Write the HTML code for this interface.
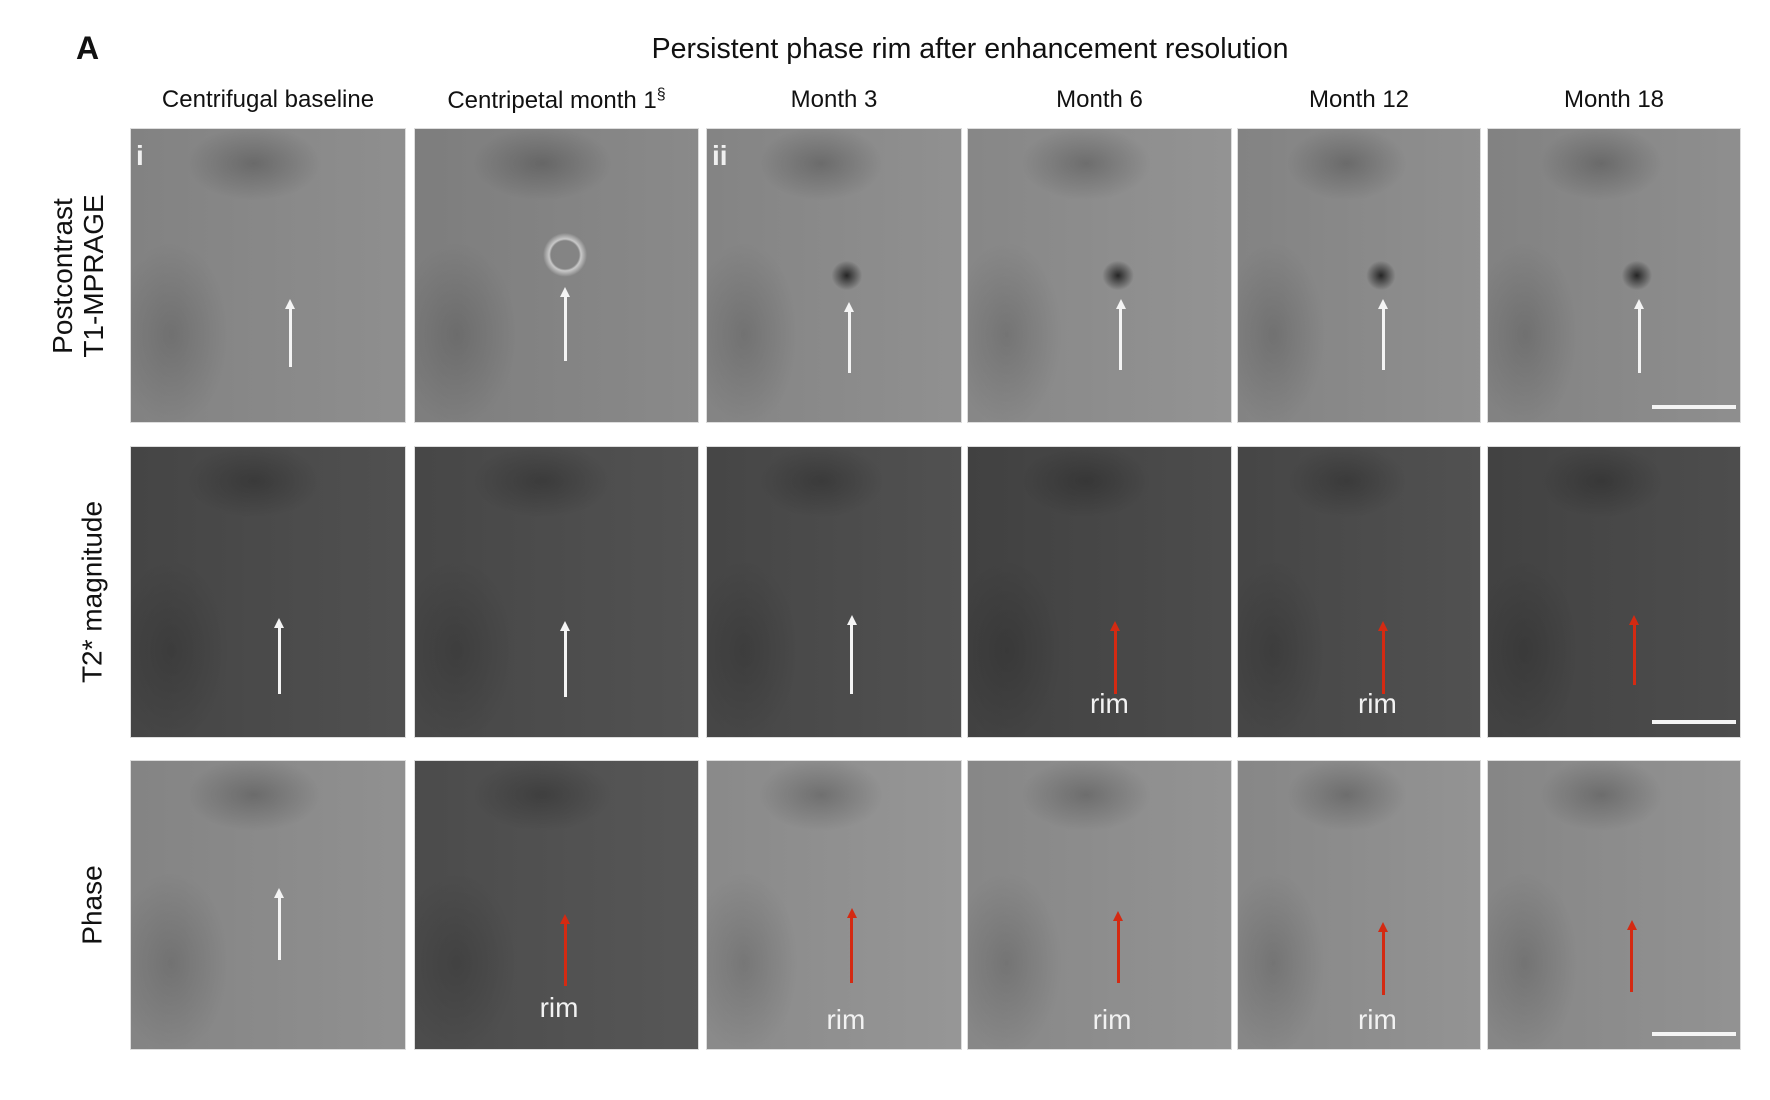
<!DOCTYPE html>
<html><head><meta charset="utf-8"><style>
body{margin:0;background:#fff;width:1770px;height:1100px;position:relative;overflow:hidden;font-family:"Liberation Sans",sans-serif;color:#111}
.abs{position:absolute}
.panel{position:absolute;overflow:hidden;box-shadow:inset 0 0 0 1px #ddd}
.hdr{position:absolute;font-size:24px;text-align:center;white-space:nowrap;transform:translateX(-50%)}
.rowlab{position:absolute;font-size:28px;text-align:center;transform:translate(-50%,-50%) rotate(-90deg);white-space:nowrap;line-height:31px}
.rim{position:absolute;color:#f2f2f2;font-size:28px;transform:translateX(-50%)}
.roman{position:absolute;color:#f0f0f0;font-size:28px;font-weight:bold;left:6px;top:12px}
</style></head><body>
<div class="abs" style="left:76px;top:30px;font-size:32px;font-weight:bold">A</div>
<div class="hdr" style="left:970px;top:33px;font-size:28.5px">Persistent phase rim after enhancement resolution</div>
<div id="root"></div>
<script>
const colNames=["Centrifugal baseline","Centripetal month 1","Month 3","Month 6","Month 12","Month 18"];
const rowNames=["Postcontrast\nT1-MPRAGE","T2* magnitude","Phase"];
const colX=[[130,406],[414,699],[706,962],[967,1232],[1237,1481],[1487,1741]];
const rowY=[[128,423],[446,738],[760,1050]];
const bg=[["#8a8a8a","#858585","#8c8c8c","#8f8f8f","#8b8b8b","#8a8a8a"],
["#494949","#4b4b4b","#4a4a4a","#454545","#4a4a4a","#464646"],
["#8c8c8c","#505050","#929292","#8f8f8f","#8f8f8f","#8e8e8e"]];
// arrows: [xfrac, topfrac, bottomfrac, red?, rimLabelYfrac or 0]
const arrows=[
[[.58,.58,.81,0,0],[.53,.54,.79,0,0],[.56,.59,.83,0,0],[.58,.58,.82,0,0],[.60,.58,.82,0,0],[.60,.58,.83,0,0]],
[[.54,.59,.85,0,0],[.53,.60,.86,0,0],[.57,.58,.85,0,0],[.56,.60,.85,1,.83],[.60,.60,.85,1,.83],[.58,.58,.82,1,0]],
[[.54,.44,.69,0,0],[.53,.53,.78,1,.80],[.57,.51,.77,1,.84],[.57,.52,.77,1,.84],[.60,.56,.81,1,.84],[.57,.55,.80,1,0]]];
const root=document.getElementById('root');
colNames.forEach((n,c)=>{
 const h=document.createElement('div');h.className='hdr';
 
 
 h.style.left=((colX[c][0]+colX[c][1])/2)+'px';h.style.top='86px';
 h.innerHTML=n+(c==1?'<sup style="font-size:16px">§</sup>':'');root.appendChild(h);
});
const rowCx=[78,92,92];
rowNames.forEach((n,r)=>{
 const l=document.createElement('div');l.className='rowlab';
 
 
 l.style.left=rowCx[r]+'px';l.style.top=((rowY[r][0]+rowY[r][1])/2)+'px';
 l.innerHTML=n.replace('\n','<br>');root.appendChild(l);
});
for(let r=0;r<3;r++)for(let c=0;c<6;c++){
 const x0=colX[c][0],w=colX[c][1]-x0,y0=rowY[r][0],h=rowY[r][1]-y0;
 const p=document.createElement('div');p.className='panel';
 
 
 const b=bg[r][c];
 let grad='radial-gradient(ellipse 35% 18% at 45% 12%, rgba(0,0,0,.22), transparent 70%),radial-gradient(ellipse 30% 45% at 15% 70%, rgba(0,0,0,.15), transparent 70%),linear-gradient(90deg, rgba(0,0,0,.06), rgba(255,255,255,.04))';
 if(r==0&&c>=2) grad='radial-gradient(ellipse 6% 5% at '+(arrows[0][c][0]*100-1)+'% 50%, rgba(20,20,20,.85), transparent 100%),'+grad;
 if(r==0&&c==1) grad='radial-gradient(circle at 53% 43%, transparent 14px, rgba(230,230,230,.7) 16px, transparent 22px),'+grad;
 p.style.cssText+='left:'+x0+'px;top:'+y0+'px;width:'+w+'px;height:'+h+'px;background:'+grad+','+b;
 root.appendChild(p);
 const a=arrows[r][c],col=a[3]?'#d42a12':'#f4f4f4';
 const ln=document.createElement('div');
 
 
 ln.style.cssText='position:absolute;left:'+(a[0]*w-1.5)+'px;top:'+(a[1]*h+8)+'px;width:3px;height:'+((a[2]-a[1])*h-8)+'px;background:'+col;
 p.appendChild(ln);
 const hd=document.createElement('div');
 
 
 hd.style.cssText='position:absolute;left:'+(a[0]*w-5)+'px;top:'+(a[1]*h)+'px;width:0;height:0;border-left:5px solid transparent;border-right:5px solid transparent;border-bottom:10px solid '+col;
 p.appendChild(hd);
 if(a[4]){const t=document.createElement('div');t.className='rim';
  
  
  t.style.left=(a[0]*w-6)+'px';t.style.top=(a[4]*h)+'px';t.textContent='rim';p.appendChild(t);}
 if(c==5){const s=document.createElement('div');
  
  
  s.style.cssText='position:absolute;left:'+(w*0.65)+'px;top:'+(h-18)+'px;width:'+(w*0.33)+'px;height:4px;background:#f4f4f4';p.appendChild(s);}
 if(r==0&&(c==0||c==2)){const t=document.createElement('div');t.className='roman';
  
  
  t.textContent=c==0?'i':'ii';p.appendChild(t);}
}
</script>
</body></html>
